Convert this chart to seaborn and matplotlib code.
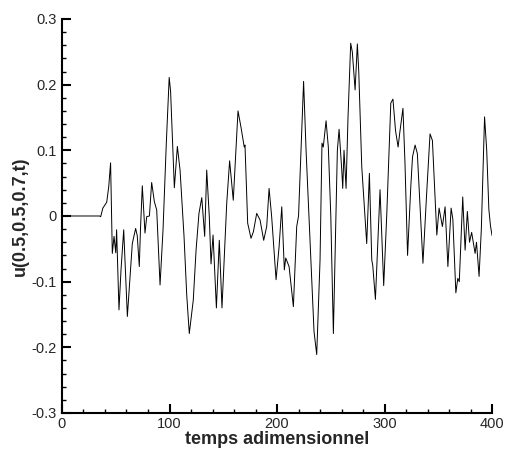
import numpy as np
import pandas as pd
import matplotlib
matplotlib.use("Agg")
import matplotlib.pyplot as plt
from matplotlib.ticker import MultipleLocator
import seaborn as sns

# values (time, velocity)
temps = [0, 35, 36, 38, 41.6, 43.5, 45.2, 46.8, 48.4, 50, 50.8, 53, 54.9, 57.4,
         60.8, 63.3, 65.4, 68.5, 70, 71.9, 73, 74.7, 76.3, 77.2, 78.8, 81.3,
         83.4, 85.9, 88.1, 91.2, 94, 97, 99.7, 101, 104.5, 107.3, 109.8, 113.5,
         116, 118.4, 122.1, 124.7, 127.4, 130, 132.7, 134.6, 137, 138.6, 140.5,
         143.6, 146.3, 148.8, 153.2, 155.9, 159.3, 163.7, 166.5, 169.5, 170.2,
         172.7, 175.8, 178, 181.1, 184.2, 187.6, 190.4, 192.6, 195, 199.1,
         201.9, 204.4, 206.8, 208.1, 211.2, 215.2, 218.3, 220, 224.7, 227, 231,
         234.4, 236.9, 240, 241.8, 243, 245.6, 247.7, 250, 252.4, 256.1, 257.7,
         260.2, 261.1, 262.3, 264.2, 266, 268.5, 270, 272.6, 274.7, 276, 278.8,
         283.4, 285.9, 288.1, 289, 291.5, 295.8, 299.2, 302, 305.8, 307.8,
         310.2, 312.6, 314, 317.1, 319, 321.4, 324.4, 326, 328.4, 330.5, 335.7,
         339, 342.3, 344.5, 348.6, 350.7, 353.8, 356.3, 358.9, 361.9, 363.5,
         366.3, 368.1, 369.5, 372.7, 374.9, 377, 379, 381, 384.2, 385.5, 387.9,
         390, 393, 395, 397, 398.5, 400]
vitesse = [0, 0, -0.001, 0.012, 0.021, 0.045, 0.081, -0.057, -0.031, -0.056,
           -0.021, -0.143, -0.082, -0.021, -0.153, -0.092, -0.042, -0.019,
           -0.03, -0.077, -0.02, 0.046, -0.001, -0.026, -0.001, 0.0, 0.051,
           0.022, 0.009, -0.105, -0.02, 0.11, 0.211, 0.19, 0.043, 0.106, 0.07,
           -0.031, -0.12, -0.179, -0.128, -0.052, 0.004, 0.028, -0.031, 0.07,
           -0.001, -0.073, -0.029, -0.14, -0.037, -0.14, 0.019, 0.084, 0.024,
           0.16, 0.135, 0.105, 0.108, -0.011, -0.034, -0.024, 0.004, -0.006,
           -0.037, -0.016, 0.042, -0.001, -0.097, -0.047, 0.014, -0.082,
           -0.064, -0.077, -0.138, -0.016, 0.0, 0.205, 0.1, -0.05, -0.176,
           -0.211, -0.067, 0.111, 0.105, 0.145, 0.105, 0.0, -0.179, 0.1, 0.132,
           0.07, 0.042, 0.1, 0.042, 0.15, 0.263, 0.25, 0.192, 0.262, 0.22,
           0.075, -0.042, 0.065, -0.067, -0.075, -0.127, 0.04, -0.106, 0.0,
           0.172, 0.178, 0.13, 0.105, 0.125, 0.164, 0.08, -0.06, 0.045, 0.09,
           0.108, 0.095, -0.072, 0.03, 0.125, 0.115, -0.029, 0.012, -0.016,
           0.014, -0.077, 0.012, -0.005, -0.117, -0.095, -0.1, 0.029, -0.052,
           0.007, -0.04, -0.025, -0.057, -0.04, -0.092, -0.02, 0.151, 0.1,
           0.01, -0.015, -0.03]

xticks = [0, 100, 200, 300, 400]
xtick_labels = ["0", "100", "200", "300", "400"]
yticks = [-0.3, -0.2, -0.1, 0, 0.1, 0.2, 0.3]
ytick_labels = ["-0.3", "-0.2", "-0.1", "0", "0.1", "0.2", "0.3"]

df = pd.DataFrame({"t": temps, "u": vitesse})

sns.set_style("ticks")
plt.rcParams['font.family'] = ['Liberation Sans', 'DejaVu Sans']

fig = plt.figure(figsize=(5.06, 4.49), dpi=100)
ax = fig.add_axes([0.1225, 0.0802, 0.85, 0.8775])

sns.lineplot(data=df, x="t", y="u", ax=ax, color="black", linewidth=0.7,
             estimator=None, sort=False)

ax.set_xlim(0, 400)
ax.set_ylim(-0.3, 0.3)
ax.set_xticks(xticks)
ax.set_xticklabels(xtick_labels)
ax.set_yticks(yticks)
ax.set_yticklabels(ytick_labels)
ax.xaxis.set_minor_locator(MultipleLocator(20))
ax.yaxis.set_minor_locator(MultipleLocator(0.02))

ax.tick_params(which="major", direction="in", length=6.5, width=1.5,
               labelsize=10.5, color="black", pad=4)
ax.tick_params(which="minor", direction="in", length=3.2, width=1.0,
               color="black")
ax.tick_params(axis="x", which="major", pad=3)

sns.despine(ax=ax)
for s in ["left", "bottom"]:
    ax.spines[s].set_linewidth(1.5)
    ax.spines[s].set_color("black")

ax.set_xlabel("temps adimensionnel", fontsize=13, fontweight="bold", labelpad=0)
ax.set_ylabel("u(0.5,0.5,0.7,t)", fontsize=13, fontweight="bold", labelpad=2)

fig.savefig("out.png", dpi=100)
